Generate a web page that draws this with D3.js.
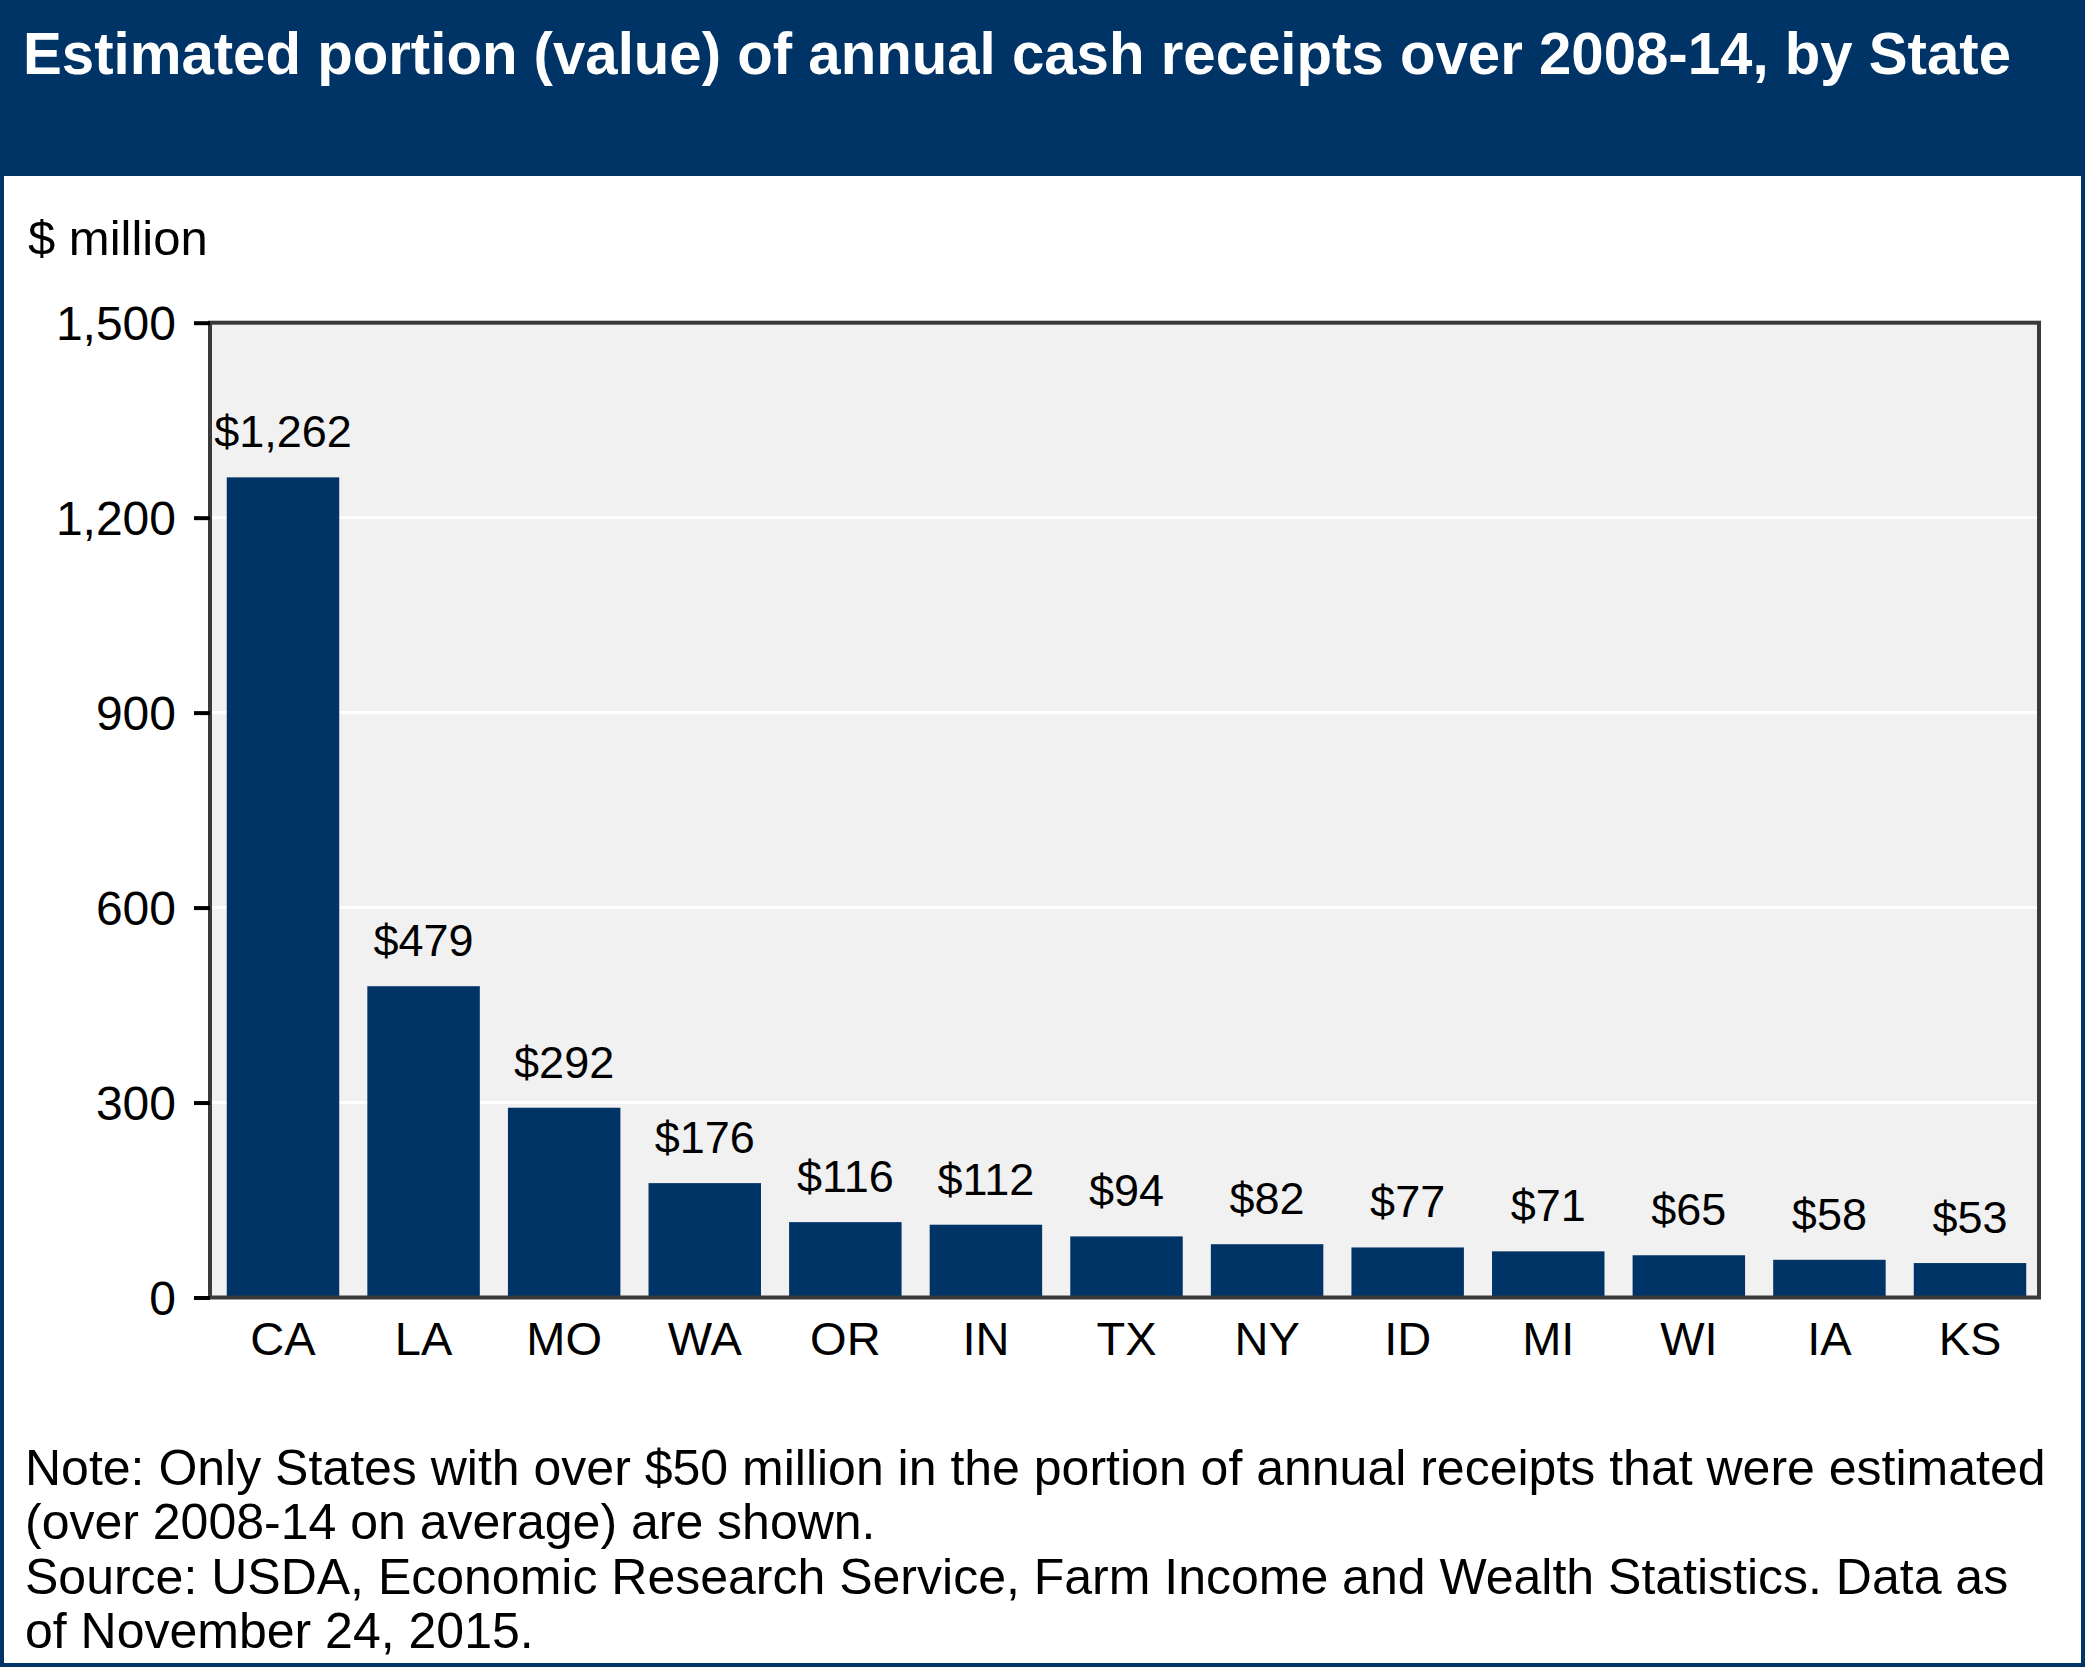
<!DOCTYPE html>
<html>
<head>
<meta charset="utf-8">
<script src="https://cdn.jsdelivr.net/npm/d3@7"></script>
<style>
  html, body { margin: 0; padding: 0; background: #ffffff; }
  svg { display: block; }
  text { font-family: "Liberation Sans", Arial, sans-serif; }
</style>
</head>
<body>
<div class="chart"></div>
<script>

// chart data
var states = ["CA", "LA", "MO", "WA", "OR", "IN", "TX", "NY", "ID", "MI", "WI", "IA", "KS"];
var values = [1262, 479, 292, 176, 116, 112, 94, 82, 77, 71, 65, 58, 53];
var yTicks = [0, 300, 600, 900, 1200, 1500];

var titleText = "Estimated portion (value) of annual cash receipts over 2008-14, by State";
var unitText = "$ million";
var noteLines = [
  "Note: Only States with over $50 million in the portion of annual receipts that were estimated",
  "(over 2008-14 on average) are shown.",
  "Source: USDA, Economic Research Service, Farm Income and Wealth Statistics. Data as",
  "of November 24, 2015."
];

// dollar format for the bar labels
var formatter = new Intl.NumberFormat('en-US', {
  style: 'currency',
  currency: 'USD',
  minimumFractionDigits: 0
});

var navy = "#003366";
var svgWidth = 2085;
var svgHeight = 1667;

var plot = { left: 210, right: 2039, top: 322.7, bottom: 1297.5 };

var svg = d3.select(".chart")
  .append("svg")
  .attr("width", svgWidth)
  .attr("height", svgHeight);

// header band + title
svg.append("rect")
  .attr("x", 0)
  .attr("y", 0)
  .attr("width", svgWidth)
  .attr("height", 176)
  .attr("fill", navy);

svg.append("text")
  .attr("x", 23)
  .attr("y", 74)
  .attr("fill", "#ffffff")
  .attr("font-weight", "bold")
  .attr("font-size", 60)
  .attr("textLength", 1988)
  .attr("lengthAdjust", "spacingAndGlyphs")
  .text(titleText);

// unit label
svg.append("text")
  .attr("x", 28)
  .attr("y", 255)
  .attr("font-size", 49)
  .attr("fill", "#000")
  .text(unitText);

// scales
var xBandScale = d3.scaleBand()
  .domain(states)
  .range([plot.left + 2, plot.right + 2])
  .paddingInner(0.2)
  .paddingOuter(0.105);

var yLinearScale = d3.scaleLinear()
  .domain([0, 1500])
  .range([plot.bottom, plot.top]);

// plot background
svg.append("rect")
  .attr("x", plot.left)
  .attr("y", plot.top)
  .attr("width", plot.right - plot.left)
  .attr("height", plot.bottom - plot.top)
  .attr("fill", "#f1f1f1");

// white grid lines
svg.append("g")
  .selectAll("line")
  .data(yTicks.filter(d => d > 0 && d < 1500))
  .enter()
  .append("line")
  .attr("x1", plot.left)
  .attr("x2", plot.right)
  .attr("y1", d => yLinearScale(d))
  .attr("y2", d => yLinearScale(d))
  .attr("stroke", "#ffffff")
  .attr("stroke-width", 3);

// bars
var chartData = states.map((s, i) => ({ state: s, value: values[i] }));

svg.append("g")
  .selectAll("rect")
  .data(chartData)
  .enter()
  .append("rect")
  .attr("x", d => xBandScale(d.state))
  .attr("y", d => yLinearScale(d.value))
  .attr("width", xBandScale.bandwidth())
  .attr("height", d => yLinearScale(0) - yLinearScale(d.value))
  .attr("fill", navy);

// value labels above the bars
svg.append("g")
  .selectAll("text")
  .data(chartData)
  .enter()
  .append("text")
  .attr("x", d => xBandScale(d.state) + xBandScale.bandwidth() / 2)
  .attr("y", d => yLinearScale(d.value) - 30)
  .attr("text-anchor", "middle")
  .attr("font-size", 45)
  .attr("fill", "#000")
  .text(d => formatter.format(d.value));

// plot frame
svg.append("rect")
  .attr("x", plot.left)
  .attr("y", plot.top)
  .attr("width", plot.right - plot.left)
  .attr("height", plot.bottom - plot.top)
  .attr("fill", "none")
  .attr("stroke", "#3a3a3a")
  .attr("stroke-width", 4);

// y axis
var yAxis = d3.axisLeft(yLinearScale)
  .tickValues(yTicks)
  .tickFormat(d3.format(","))
  .tickSizeInner(16)
  .tickSizeOuter(0)
  .tickPadding(18);

var yAxisGroup = svg.append("g")
  .attr("transform", `translate(${plot.left}, 0)`)
  .call(yAxis);

yAxisGroup.select(".domain").remove();
yAxisGroup.selectAll(".tick line")
  .attr("stroke", "#000")
  .attr("stroke-width", 4);
yAxisGroup.selectAll(".tick text")
  .attr("font-size", 48)
  .attr("font-family", "Liberation Sans, Arial, sans-serif")
  .attr("fill", "#000")
  .attr("dy", "0.36em");

// x axis (labels only)
var xAxis = d3.axisBottom(xBandScale)
  .tickSize(0)
  .tickPadding(24);

var xAxisGroup = svg.append("g")
  .attr("transform", `translate(0, ${plot.bottom})`)
  .call(xAxis);

xAxisGroup.select(".domain").remove();
xAxisGroup.selectAll(".tick text")
  .attr("font-size", 47)
  .attr("font-family", "Liberation Sans, Arial, sans-serif")
  .attr("fill", "#000")
  .attr("dy", "0.71em");

// note and source
svg.append("g")
  .selectAll("text")
  .data(noteLines)
  .enter()
  .append("text")
  .attr("x", 25)
  .attr("y", (d, i) => 1485 + i * 54.3)
  .attr("font-size", 50)
  .attr("fill", "#000")
  .text(d => d);

// outer navy frame
svg.append("rect")
  .attr("x", 2)
  .attr("y", 2)
  .attr("width", svgWidth - 4)
  .attr("height", svgHeight - 4)
  .attr("fill", "none")
  .attr("stroke", navy)
  .attr("stroke-width", 4);

</script>
</body>
</html>
